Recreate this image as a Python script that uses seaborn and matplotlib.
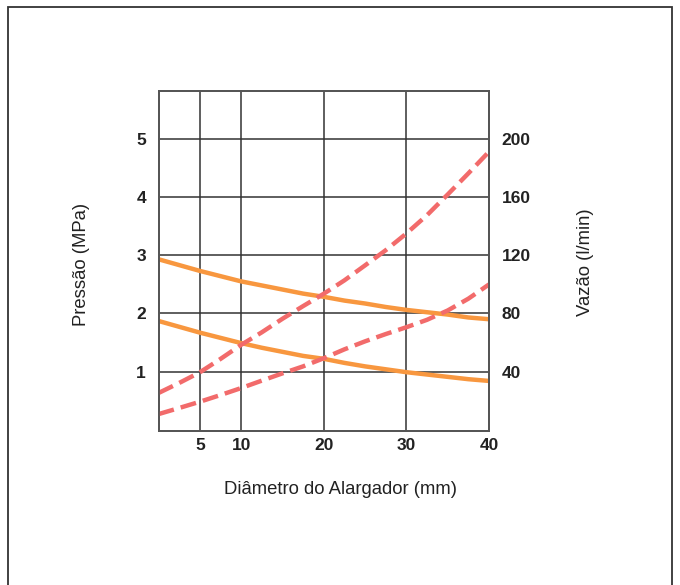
import matplotlib
matplotlib.use("Agg")
import matplotlib.pyplot as plt
import seaborn as sns
import pandas as pd
from matplotlib.patches import Rectangle

# ---- data ----
diameter = [0, 2.5, 5, 7.5, 10, 12.5, 15, 17.5, 20,
            22.5, 25, 27.5, 30, 32.5, 35, 37.5, 40]                         # mm
pressure_high = [2.93, 2.83, 2.73, 2.64, 2.55, 2.48, 2.41, 2.34, 2.285,
                 2.22, 2.17, 2.11, 2.06, 2.02, 1.98, 1.93, 1.90]            # MPa
pressure_low = [1.87, 1.77, 1.67, 1.58, 1.49, 1.41, 1.34, 1.27, 1.22,
                1.15, 1.09, 1.04, 0.99, 0.95, 0.91, 0.87, 0.84]             # MPa
flow_high = [25.3, 32.2, 39.5, 48.7, 58.4, 67.0, 76.3, 85.0, 93.5,
             102.7, 113.0, 123.4, 134.9, 147.5, 161.7, 176.2, 191.1]        # l/min
flow_low = [10.8, 15.0, 19.3, 23.9, 28.7, 33.8, 38.8, 43.6, 49.2,
            55.3, 60.8, 65.8, 70.5, 75.6, 82.0, 90.1, 99.9]                 # l/min

x_ticks = [5, 10, 20, 30, 40]
p_ticks = [1, 2, 3, 4, 5]
q_ticks = [40, 80, 120, 160, 200]

ORANGE = "#F8973F"
SALMON = "#F26B6B"

sns.set_theme(style="white")
plt.rcParams["font.family"] = ["Liberation Sans", "DejaVu Sans"]

fig = plt.figure(figsize=(6.8, 5.85), dpi=100)
W, H = 680, 585
left, right, top, bottom = 158.5, 489, 91, 431
ax = fig.add_axes([left / W, 1 - bottom / H, (right - left) / W, (bottom - top) / H])
ax2 = ax.twinx()

n = len(diameter)
df_p = pd.DataFrame({"d": diameter * 2,
                     "p": pressure_high + pressure_low,
                     "s": ["a"] * n + ["b"] * n})
df_q = pd.DataFrame({"d": diameter * 2,
                     "q": flow_high + flow_low,
                     "s": ["a"] * n + ["b"] * n})

sns.lineplot(data=df_p, x="d", y="p", units="s", estimator=None, ax=ax,
             color=ORANGE, linewidth=3.2, legend=False)
sns.lineplot(data=df_q, x="d", y="q", units="s", estimator=None, ax=ax2,
             color=SALMON, linewidth=3.2, legend=False)
for ln in ax2.lines:
    ln.set_dashes((3.6, 1.6))
    ln.set_dash_capstyle("butt")

ymin, ymax = -0.02, 5.82
ax.set_xlim(0, 40)
ax.set_ylim(ymin, ymax)
ax2.set_ylim(ymin * 40, ymax * 40)

ax.set_xticks(x_ticks)
ax.set_yticks(p_ticks)
ax2.set_yticks(q_ticks)
tkw = dict(fontsize=12.5, fontweight="bold", color="#222")
ax.set_xticklabels([str(v) for v in x_ticks], **tkw)
ax.set_yticklabels([str(v) for v in p_ticks], **tkw)
ax2.set_yticklabels([str(v) for v in q_ticks], **tkw)
ax.tick_params(axis="y", length=0, pad=9)
ax.tick_params(axis="x", length=0, pad=5)
ax2.tick_params(axis="y", length=0, pad=9)

ax.grid(True, color="#333333", linewidth=1.1)
ax2.grid(False)
ax.set_axisbelow(True)
ax.set_xlabel("")
ax.set_ylabel("")
ax2.set_ylabel("")
for a in (ax, ax2):
    for sp in a.spines.values():
        sp.set_color("#555555")
        sp.set_linewidth(1.3)
    a.set_facecolor("none")

lkw = dict(fontsize=13.3, color="#222")
fig.text(82 / W, 1 - 264 / H, "Pressão (MPa)", rotation=90, ha="center", va="center", **lkw)
fig.text(585 / W, 1 - 262 / H, "Vazão (l/min)", rotation=90, ha="center", va="center", **lkw)
fig.text(340 / W, 1 - 490 / H, "Diâmetro do Alargador (mm)", ha="center", va="center", **lkw)

fig.patches.append(Rectangle((8 / W, -0.05), (672 - 8) / W, 1.05 - 7 / H,
                             transform=fig.transFigure, fill=False,
                             edgecolor="#333333", linewidth=1.3))

fig.savefig("out.png", dpi=100)
